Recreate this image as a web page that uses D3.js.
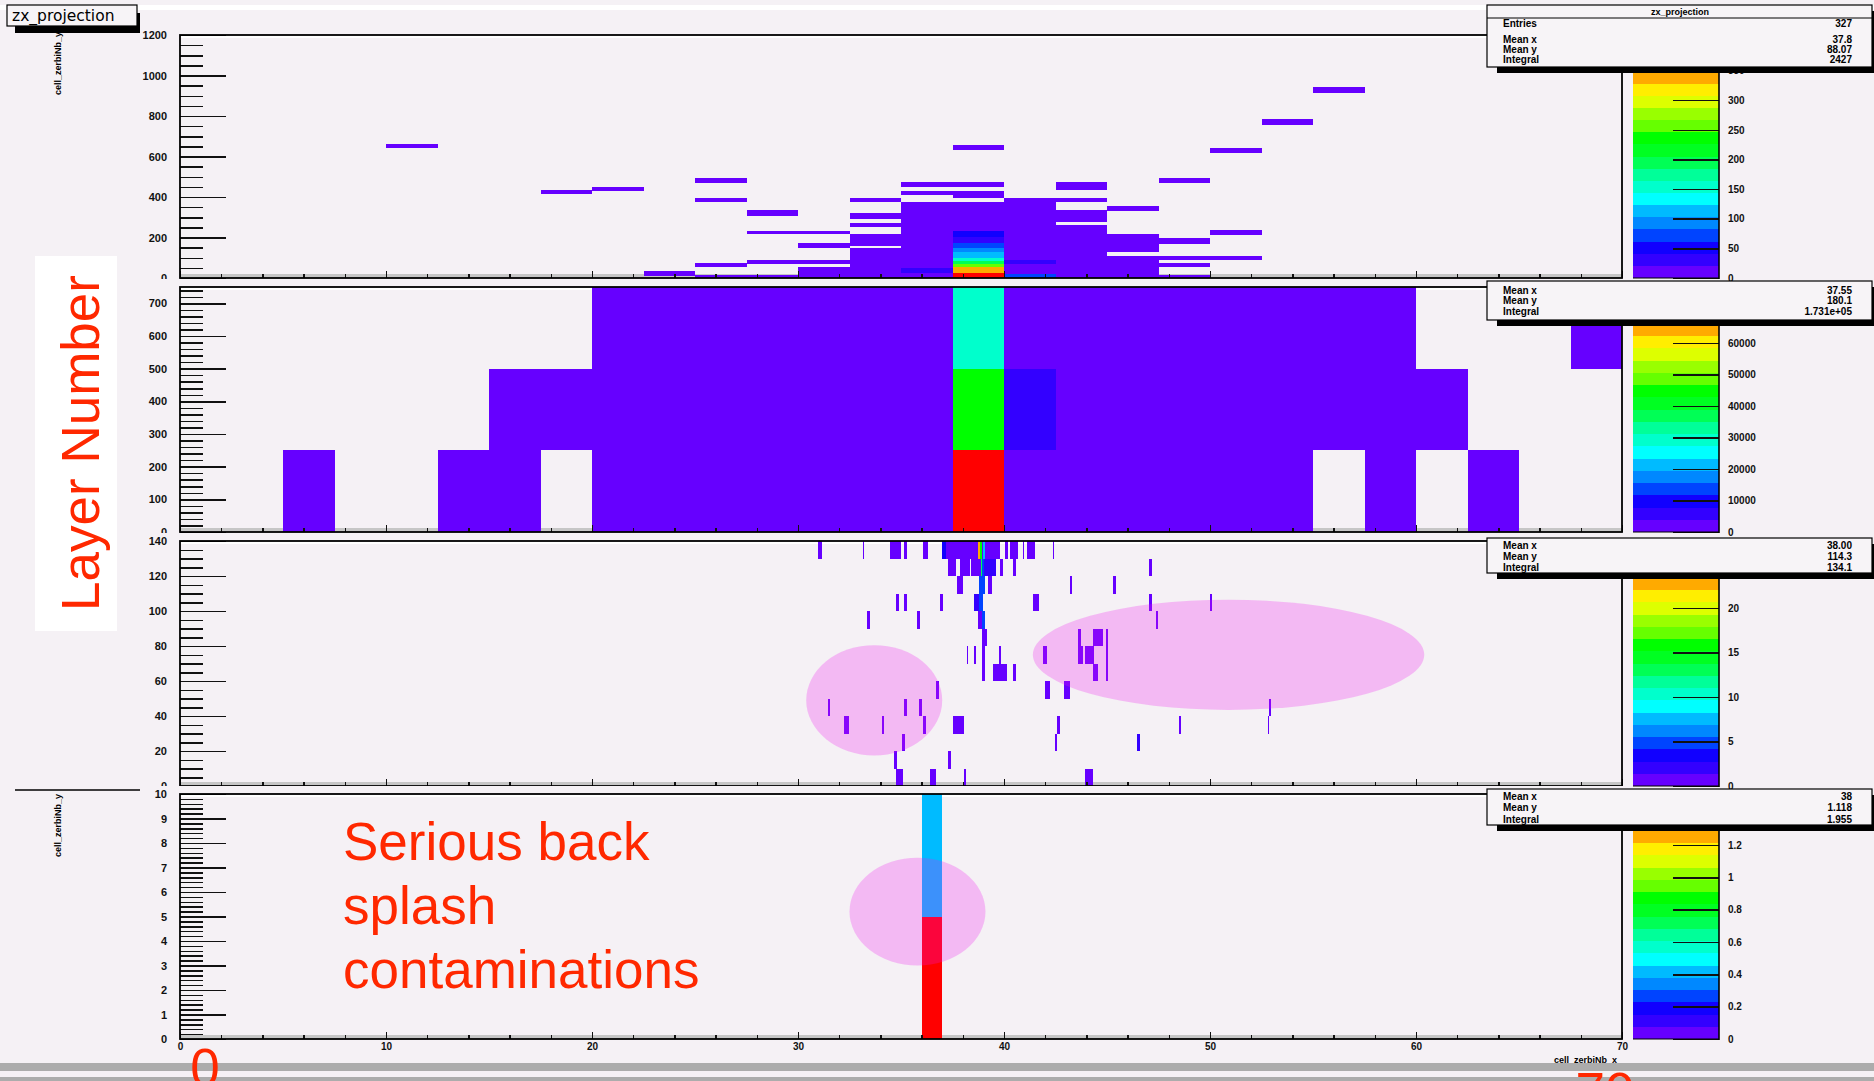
<!DOCTYPE html>
<html>
<head>
<meta charset="utf-8">
<script src="https://cdnjs.cloudflare.com/ajax/libs/d3/7.8.5/d3.min.js"></script>
<style>
  body { margin: 0; background: #f5f1f5; overflow: hidden; }
</style>
</head>
<body>
<div id="chart"></div>
<script>
// ROOT "pretty" palette, 20 contour levels, bottom -> top
const palette = ['#6600ff', '#3300ff', '#1100ff', '#0044ff', '#0088ff', '#00bbff', '#00ffff', '#00ffcc',
  '#00ff99', '#00ff55', '#00ff22', '#00ff00', '#66ff00', '#99ff00', '#ddff00', '#ffee00',
  '#ffaa00', '#ff7700', '#ff4400', '#ff0000']

const xTickValues = [0, 10, 20, 30, 40, 50, 60, 70]

// panel 1 : [x bin start, y low, y high, content]
const topBinWidth = 2.5
const topCells = [
  [10, 640, 660, 8],
  [17.5, 415, 435, 8],
  [20, 430, 450, 8],
  [22.5, 10, 35, 8],
  [25, 470, 495, 8], [25, 375, 395, 8], [25, 55, 75, 8], [25, 0, 15, 8],
  [27.5, 308, 335, 8], [27.5, 215, 232, 8], [27.5, 70, 90, 8], [27.5, 0, 15, 8],
  [30, 215, 232, 8], [30, 150, 175, 8], [30, 70, 90, 8], [30, 0, 53, 8],
  [32.5, 375, 395, 8], [32.5, 290, 320, 8], [32.5, 250, 270, 8], [32.5, 160, 215, 8], [32.5, 0, 150, 8],
  [35, 450, 475, 8], [35, 412, 430, 8], [35, 50, 375, 8], [35, 25, 50, 30], [35, 0, 25, 8],
  [37.5, 632, 656, 8], [37.5, 450, 475, 8], [37.5, 397, 430, 8], [37.5, 232, 375, 8],
  [37.5, 204, 232, 52], [37.5, 171, 204, 30], [37.5, 147, 171, 72], [37.5, 126, 147, 92],
  [37.5, 99, 126, 113], [37.5, 82, 99, 154], [37.5, 71, 82, 195], [37.5, 54, 71, 256],
  [37.5, 25, 54, 338], [37.5, 0, 25, 400],
  [40, 90, 397, 8], [40, 70, 90, 30], [40, 20, 70, 8], [40, 0, 20, 72],
  [42.5, 435, 475, 8], [42.5, 375, 397, 8], [42.5, 275, 336, 8], [42.5, 0, 262, 8],
  [45, 330, 355, 8], [45, 130, 215, 8], [45, 0, 110, 8],
  [47.5, 470, 495, 8], [47.5, 168, 196, 8], [47.5, 90, 110, 8], [47.5, 55, 75, 8], [47.5, 0, 15, 8],
  [50, 615, 640, 8], [50, 212, 237, 8], [50, 90, 110, 8],
  [52.5, 756, 785, 8],
  [55, 914, 943, 8]
]

// panel 2 : [x bin start, y bin start, content]
const midBinWidth = 2.5
const midBinHeight = 250
const midCells = [
  [5, 0, 2000], [12.5, 0, 2000], [15, 0, 2000], [20, 0, 2000], [22.5, 0, 2000], [25, 0, 2000],
  [27.5, 0, 2000], [30, 0, 2000], [32.5, 0, 2000], [35, 0, 2000], [37.5, 0, 76000], [40, 0, 2000],
  [42.5, 0, 2000], [45, 0, 2000], [47.5, 0, 2000], [50, 0, 2000], [52.5, 0, 2000], [57.5, 0, 2000],
  [62.5, 0, 2000],
  [15, 250, 2000], [17.5, 250, 2000], [20, 250, 2000], [22.5, 250, 2000], [25, 250, 2000],
  [27.5, 250, 2000], [30, 250, 2000], [32.5, 250, 2000], [35, 250, 2000], [37.5, 250, 45000],
  [40, 250, 5500], [42.5, 250, 2000], [45, 250, 2000], [47.5, 250, 2000], [50, 250, 2000],
  [52.5, 250, 2000], [55, 250, 2000], [57.5, 250, 2000], [60, 250, 2000],
  [20, 500, 2000], [22.5, 500, 2000], [25, 500, 2000], [27.5, 500, 2000], [30, 500, 2000],
  [32.5, 500, 2000], [35, 500, 2000], [37.5, 500, 29500], [40, 500, 2000], [42.5, 500, 2000],
  [45, 500, 2000], [47.5, 500, 2000], [50, 500, 2000], [52.5, 500, 2000], [55, 500, 2000],
  [57.5, 500, 2000], [67.5, 500, 2000]
]

// panel 3 : [x start, width, y row, content]
const hitBinHeight = 10
const hitCells = [
  [30.99, 0.19, 13, 0.7], [33.14, 0.08, 13, 0.7], [34.47, 0.53, 13, 0.7], [35.13, 0.16, 13, 0.7],
  [36.06, 0.24, 13, 0.7], [36.98, 0.2, 13, 3.4], [37.18, 1.58, 13, 0.7], [38.76, 0.07, 13, 22.7],
  [38.83, 0.08, 13, 15.8], [38.91, 0.08, 13, 0.7], [38.99, 0.1, 13, 7.6], [39.09, 0.74, 13, 0.7],
  [40.05, 0.16, 13, 0.7], [40.31, 0.36, 13, 0.7], [40.9, 0.08, 13, 0.7], [41.1, 0.42, 13, 0.7],
  [42.37, 0.08, 13, 0.7],
  [37.27, 0.4, 12, 0.7], [37.84, 0.49, 12, 0.7], [38.4, 0.4, 12, 0.7], [38.8, 0.06, 12, 0.7],
  [38.86, 0.06, 12, 13], [38.92, 0.13, 12, 4.8], [39.05, 0.55, 12, 2], [39.79, 0.15, 12, 0.7],
  [40.42, 0.16, 12, 0.7], [47.03, 0.16, 12, 0.7],
  [37.72, 0.27, 11, 0.7], [38.8, 0.28, 11, 4.8], [39.21, 0.2, 11, 0.7], [43.22, 0.06, 11, 0.7],
  [45.28, 0.16, 11, 0.7],
  [34.76, 0.16, 10, 0.7], [35.13, 0.16, 10, 0.7], [36.9, 0.16, 10, 0.7], [38.56, 0.25, 10, 2],
  [38.81, 0.15, 10, 4.8], [41.43, 0.29, 10, 0.7], [47.03, 0.16, 10, 0.7], [50.0, 0.08, 10, 0.7],
  [33.34, 0.16, 9, 0.7], [35.76, 0.16, 9, 0.7], [38.73, 0.22, 9, 0.7], [38.95, 0.12, 9, 4.8],
  [47.38, 0.08, 9, 0.7],
  [38.92, 0.24, 8, 0.7], [43.58, 0.16, 8, 0.7], [44.34, 0.45, 8, 0.7], [44.97, 0.08, 8, 0.7],
  [38.19, 0.05, 7, 0.7], [38.55, 0.08, 7, 0.7], [38.92, 0.16, 7, 0.7], [39.78, 0.08, 7, 0.7],
  [41.91, 0.16, 7, 0.7], [43.58, 0.24, 7, 0.7], [43.95, 0.44, 7, 0.7], [44.97, 0.08, 7, 0.7],
  [38.92, 0.16, 6, 0.7], [39.49, 0.65, 6, 0.7], [40.42, 0.16, 6, 0.7], [44.32, 0.24, 6, 0.7],
  [44.97, 0.08, 6, 0.7],
  [36.7, 0.15, 5, 0.7], [42.01, 0.24, 5, 0.7], [42.93, 0.26, 5, 0.7],
  [31.48, 0.08, 4, 0.7], [35.13, 0.15, 4, 0.7], [35.86, 0.16, 4, 0.7], [52.88, 0.08, 4, 0.7],
  [32.22, 0.27, 3, 0.7], [34.1, 0.08, 3, 0.7], [36.07, 0.16, 3, 0.7], [37.54, 0.53, 3, 0.7],
  [42.56, 0.16, 3, 0.7], [48.51, 0.08, 3, 0.7], [52.8, 0.08, 3, 0.7],
  [35.04, 0.16, 2, 0.7], [42.48, 0.08, 2, 0.7], [46.46, 0.16, 2, 2],
  [34.65, 0.16, 1, 0.7], [37.27, 0.16, 1, 0.7],
  [34.76, 0.36, 0, 0.7], [36.41, 0.27, 0, 0.7], [38.08, 0.08, 0, 0.7], [43.95, 0.37, 0, 0.7]
]

// panel 4 : [x bin start, y bin start, content]
const zoomBinWidth = 1
const zoomBinHeight = 5
const zoomCells = [[36, 0, 1.5], [36, 5, 0.42]]

// per panel axis settings
const yMaxes = [1200, 750, 140, 10]
const yLabelValues = [
  [0, 200, 400, 600, 800, 1000, 1200],
  [0, 100, 200, 300, 400, 500, 600, 700],
  [0, 20, 40, 60, 80, 100, 120, 140],
  [0, 1, 2, 3, 4, 5, 6, 7, 8, 9, 10]
]
const yMinorSteps = [50, 20, 5, 0.2]
const zMaxes = [410, 77700, 27.5, 1.515]
const zTickValues = [
  [0, 50, 100, 150, 200, 250, 300, 350, 400],
  [0, 10000, 20000, 30000, 40000, 50000, 60000, 70000],
  [0, 5, 10, 15, 20, 25],
  [0, 0.2, 0.4, 0.6, 0.8, 1, 1.2, 1.4]
]

const statsRows = [
  [['Entries', '327'], ['Mean x', '37.8'], ['Mean y', '88.07'], ['Integral', '2427']],
  [['Mean x', '37.55'], ['Mean y', '180.1'], ['Integral', '1.731e+05']],
  [['Mean x', '38.00'], ['Mean y', '114.3'], ['Integral', '134.1']],
  [['Mean x', '38'], ['Mean y', '1.118'], ['Integral', '1.955']]
]

// highlighted back splash regions: [panel, centre x, centre y, radius x, radius y]
const splashRegions = [
  [2, 33.7, 49, 3.3, 31.5],
  [2, 50.9, 75, 9.5, 31.5],
  [3, 35.8, 5.2, 3.3, 2.2]
]

const W = 1874, H = 1081
const X0 = 180, X1 = 1622
const CB0 = 1633, CB1 = 1719
const BG = '#f5f1f5'
const RED = '#ff2800'
const axisFont = 'Liberation Sans, Arial, sans-serif'
const pads = [
  { top: 35, bottom: 278 },
  { top: 287, bottom: 532 },
  { top: 541, bottom: 786 },
  { top: 794, bottom: 1039 }
]

const panelCells = [
  topCells.map(([x, lo, hi, v]) => ({ x0: x, x1: x + topBinWidth, y0: lo, y1: hi, v })),
  midCells.map(([x, y, v]) => ({ x0: x, x1: x + midBinWidth, y0: y, y1: y + midBinHeight, v })),
  hitCells.map(([x, w, r, v]) => ({ x0: x, x1: x + w, y0: r * hitBinHeight, y1: (r + 1) * hitBinHeight, v })),
  zoomCells.map(([x, y, v]) => ({ x0: x, x1: x + zoomBinWidth, y0: y, y1: y + zoomBinHeight, v }))
]

const svg = d3.select('#chart').append('svg')
  .attr('width', W).attr('height', H)
  .attr('viewBox', `0 0 ${W} ${H}`)
  .attr('xmlns', 'http://www.w3.org/2000/svg')

svg.append('rect').attr('width', W).attr('height', H).attr('fill', BG)
svg.append('rect').attr('x', 0).attr('y', 5).attr('width', W).attr('height', 5).attr('fill', '#ffffff')

const x = d3.scaleLinear().domain([0, 70]).range([X0, X1])

function styleAxis(g, size) {
  g.select('.domain').remove()
  g.attr('font-family', axisFont).attr('font-size', size).attr('font-weight', 'bold')
  g.selectAll('line').attr('stroke', '#111').attr('stroke-width', 1.5).attr('shape-rendering', 'crispEdges')
  g.selectAll('text').attr('fill', '#111')
}

pads.forEach((pad, i) => {
  const y = d3.scaleLinear().domain([0, yMaxes[i]]).range([pad.bottom, pad.top])
  const color = d3.scaleQuantize().domain([0, zMaxes[i]]).range(palette)
  const g = svg.append('g')

  // pad background hides the lower half of the previous pad's "0" label
  g.append('rect').attr('x', 120).attr('y', pad.top - 8)
    .attr('width', X1 + 4 - 120).attr('height', pad.bottom - pad.top + 8).attr('fill', BG)
  g.append('rect').attr('x', X0).attr('y', pad.bottom - 4).attr('width', X1 - X0).attr('height', 4).attr('fill', '#c6c6c6')
  g.append('rect').attr('x', X0).attr('y', pad.top).attr('width', X1 - X0).attr('height', 3).attr('fill', '#ffffff')

  g.append('g').selectAll('rect')
    .data(panelCells[i])
    .enter()
    .append('rect')
    .attr('x', d => x(d.x0))
    .attr('width', d => Math.max(1.2, x(d.x1) - x(d.x0)))
    .attr('y', d => y(d.y1))
    .attr('height', d => y(d.y0) - y(d.y1))
    .attr('fill', d => color(d.v))
    .attr('shape-rendering', 'crispEdges')

  g.append('g').selectAll('ellipse')
    .data(splashRegions.filter(r => r[0] === i))
    .enter()
    .append('ellipse')
    .attr('cx', d => x(d[1]))
    .attr('cy', d => y(d[2]))
    .attr('rx', d => x(d[1] + d[3]) - x(d[1]))
    .attr('ry', d => y(d[2]) - y(d[2] + d[4]))
    .attr('fill', 'rgba(240, 20, 240, 0.25)')

  const minor = d3.range(0, yMaxes[i] + 1e-9, yMinorSteps[i])
  g.append('g').attr('transform', `translate(${X0},0)`)
    .call(d3.axisRight(y).tickValues(minor).tickSize(23).tickFormat(''))
    .call(a => styleAxis(a, 11))
  g.append('g').attr('transform', `translate(${X0},0)`)
    .call(d3.axisRight(y).tickValues(yLabelValues[i]).tickSize(46).tickFormat(''))
    .call(a => styleAxis(a, 11))
  g.append('g').attr('transform', `translate(${X0},0)`)
    .call(d3.axisLeft(y).tickValues(yLabelValues[i]).tickSize(0).tickPadding(13).tickFormat(d3.format('d')))
    .call(a => styleAxis(a, 11))

  g.append('g').attr('transform', `translate(0,${pad.bottom})`)
    .call(d3.axisTop(x).tickValues(d3.range(0, 71, 2)).tickSize(4).tickFormat(''))
    .call(a => styleAxis(a, 11))
  g.append('g').attr('transform', `translate(0,${pad.bottom})`)
    .call(d3.axisTop(x).tickValues(xTickValues).tickSize(7).tickFormat(''))
    .call(a => styleAxis(a, 11))
  if (i === pads.length - 1) {
    g.append('g').attr('transform', `translate(0,${pad.bottom})`)
      .call(d3.axisBottom(x).tickValues(xTickValues).tickSize(0).tickPadding(4).tickFormat(d3.format('d')))
      .call(a => styleAxis(a, 10))
  }

  g.append('rect').attr('x', X0).attr('y', pad.top)
    .attr('width', X1 - X0).attr('height', pad.bottom - pad.top)
    .attr('fill', 'none').attr('stroke', '#000').attr('stroke-width', 1.8)

  // palette axis
  const z = d3.scaleLinear().domain([0, zMaxes[i]]).range([pad.bottom, pad.top])
  const cb = g.append('g')
  cb.selectAll('rect')
    .data(palette)
    .enter()
    .append('rect')
    .attr('x', CB0)
    .attr('width', CB1 - CB0)
    .attr('y', c => z(color.invertExtent(c)[1]))
    .attr('height', c => z(color.invertExtent(c)[0]) - z(color.invertExtent(c)[1]))
    .attr('fill', c => c)
    .attr('shape-rendering', 'crispEdges')
  cb.append('g').attr('transform', `translate(${CB1},0)`)
    .call(d3.axisLeft(z).tickValues(zTickValues[i]).tickSize(46).tickFormat(''))
    .call(a => styleAxis(a, 10))
  cb.append('g').attr('transform', `translate(${CB1},0)`)
    .call(d3.axisRight(z).tickValues(zTickValues[i]).tickSize(0).tickPadding(9)
      .tickFormat(v => String(Math.round(v * 10) / 10)))
    .call(a => styleAxis(a, 10))
  cb.append('line').attr('x1', CB1).attr('x2', CB1).attr('y1', pad.top).attr('y2', pad.bottom + 1)
    .attr('stroke', '#000').attr('stroke-width', 1.6)
  cb.append('line').attr('x1', CB0).attr('x2', CB1).attr('y1', pad.bottom).attr('y2', pad.bottom)
    .attr('stroke', '#000').attr('stroke-width', 1.2)
})

// statistics boxes
const boxes = [
  { top: 5, bottom: 67, rows: [24, 40, 50, 60], title: 'zx_projection' },
  { top: 281, bottom: 320, rows: [291, 301, 312] },
  { top: 538, bottom: 573, rows: [546, 557, 568] },
  { top: 789, bottom: 825, rows: [797, 808, 820] }
]
boxes.forEach((b, i) => {
  const g = svg.append('g').attr('font-family', axisFont).attr('font-size', 10).attr('font-weight', 'bold')
  g.append('rect').attr('x', 1497).attr('y', b.top + 6).attr('width', 400).attr('height', b.bottom - b.top)
    .attr('fill', '#000')
  g.append('rect').attr('x', 1487).attr('y', b.top).attr('width', 385).attr('height', b.bottom - b.top)
    .attr('fill', '#f7f4f7').attr('stroke', '#000').attr('stroke-width', 1.2)
  if (b.title) {
    g.append('line').attr('x1', 1487).attr('x2', 1872).attr('y1', 18).attr('y2', 18)
      .attr('stroke', '#000').attr('stroke-width', 1)
    g.append('text').attr('x', 1680).attr('y', 12).attr('dy', '0.32em')
      .attr('text-anchor', 'middle').attr('font-size', 9).text(b.title)
  }
  statsRows[i].forEach((r, k) => {
    g.append('text').attr('x', 1503).attr('y', b.rows[k]).attr('dy', '0.32em').text(r[0])
    g.append('text').attr('x', 1852).attr('y', b.rows[k]).attr('dy', '0.32em')
      .attr('text-anchor', 'end').text(r[1])
  })
})

// canvas title
svg.append('rect').attr('x', 15).attr('y', 13).attr('width', 125).attr('height', 20).attr('fill', '#000')
svg.append('rect').attr('x', 7).attr('y', 5).attr('width', 130).attr('height', 21)
  .attr('fill', '#f7f4f7').attr('stroke', '#000').attr('stroke-width', 1.2)
svg.append('text').attr('x', 12).attr('y', 21).attr('font-family', 'DejaVu Sans, sans-serif')
  .attr('font-size', 15.5).attr('fill', '#000').text('zx_projection')

// axis titles
const smallTitle = (tx, ty, rot, anchor, t) => svg.append('text')
  .attr('transform', `translate(${tx},${ty}) rotate(${rot})`)
  .attr('text-anchor', anchor).attr('font-family', axisFont).attr('font-size', 9)
  .attr('font-weight', 'bold').attr('fill', '#000').text(t)
smallTitle(61, 32, -90, 'end', 'cell_zerbiNb_y')
smallTitle(61, 794, -90, 'end', 'cell_zerbiNb_y')
smallTitle(1617, 1063, 0, 'end', 'cell_zerbiNb_x')
svg.append('line').attr('x1', 15).attr('x2', 140).attr('y1', 790).attr('y2', 790)
  .attr('stroke', '#000').attr('stroke-width', 1.5)

// bottom frame of the slide
svg.append('rect').attr('x', 0).attr('y', 1063).attr('width', W).attr('height', 8).attr('fill', '#acacac')
svg.append('rect').attr('x', 0).attr('y', 1077).attr('width', W).attr('height', 4).attr('fill', '#acacac')

// slide annotations
svg.append('rect').attr('x', 35).attr('y', 256).attr('width', 82).attr('height', 375).attr('fill', '#ffffff')
svg.append('text').attr('transform', 'translate(99,443) rotate(-90)')
  .attr('text-anchor', 'middle').attr('font-family', 'Liberation Sans, Arial, sans-serif')
  .attr('font-size', 53).attr('fill', RED).text('Layer Number')

const note = svg.append('text').attr('font-family', 'Liberation Sans, Arial, sans-serif')
  .attr('font-size', 53).attr('fill', RED)
;['Serious back', 'splash', 'contaminations'].forEach((t, k) => {
  note.append('tspan').attr('x', 343).attr('y', 860 + k * 64).text(t)
})
svg.append('text').attr('x', 205).attr('y', 1086).attr('text-anchor', 'middle')
  .attr('font-family', 'Liberation Sans, Arial, sans-serif').attr('font-size', 53).attr('fill', RED).text('0')
svg.append('text').attr('x', 1605).attr('y', 1110).attr('text-anchor', 'middle')
  .attr('font-family', 'Liberation Sans, Arial, sans-serif').attr('font-size', 53).attr('fill', RED).text('70')
</script>
</body>
</html>
